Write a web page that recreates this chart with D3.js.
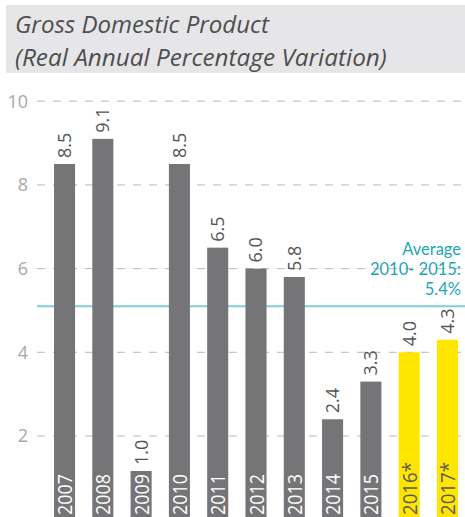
<!DOCTYPE html>
<html><head><meta charset="utf-8">
<script src="https://cdn.jsdelivr.net/npm/d3@7"></script>
<style>
html,body{margin:0;padding:0;background:#fff;}
svg{display:block;font-family:"Open Sans",sans-serif;}
</style></head>
<body><svg id="c" width="465" height="517"></svg>
<script>
const years = ["2007","2008","2009","2010","2011","2012","2013","2014","2015","2016*","2017*"];
const values = [8.5, 9.1, 1.0, 8.5, 6.5, 6.0, 5.8, 2.4, 3.3, 4.0, 4.3];
const forecast = [false,false,false,false,false,false,false,false,false,true,true];
const yTicks = [2, 4, 6, 8, 10];
const averageLevel = 5.1;
const averageLines = ["Average", "2010- 2015:", "5.4%"];
const titleLines = ["Gross Domestic Product", "(Real Annual Percentage Variation)"];

const svg = d3.select("#c");
const W = 465, H = 517;
const x = d3.scaleBand().domain(years).range([54, 458]).paddingInner(0.45).paddingOuter(0);
const y = d3.scaleLinear().domain([0, 10]).range([519.7, 101.2]);

// header
svg.append("rect").attr("x", 6).attr("y", 5).attr("width", W - 6).attr("height", 68).attr("fill", "#e6e6e8");
const titleW = [254, 372];
titleLines.forEach((t, i) => {
  const tx = svg.append("text").attr("x", 15).attr("y", 33 + i * 32.5)
    .attr("fill", "#4e4e4e").attr("font-style", "italic").attr("font-size", 22).text(t);
  const w = tx.node().getComputedTextLength();
  tx.attr("font-size", 22 * titleW[i] / w);
});

// grid
const grid = svg.append("g");
yTicks.forEach(v => {
  grid.append("line").attr("x1", 37).attr("x2", W).attr("y1", y(v)).attr("y2", y(v))
    .attr("stroke", "#b8b8b8").attr("stroke-width", 1).attr("stroke-dasharray", "8,8");
  grid.append("text").attr("x", 28).attr("y", y(v)).attr("dy", "0.36em").attr("text-anchor", "end")
    .attr("font-size", 18).attr("fill", "#a8a8a8").text(v);
});

// average line
svg.append("line").attr("x1", 37).attr("x2", W).attr("y1", y(averageLevel)).attr("y2", y(averageLevel))
  .attr("stroke", "#7fcfd7").attr("stroke-width", 2);
averageLines.forEach((t, i) => {
  svg.append("text").attr("x", 461).attr("y", 254.5 + i * 20).attr("text-anchor", "end")
    .attr("font-family", "Lato, sans-serif").attr("font-size", 16.5).attr("fill", "#1ca6b6").text(t);
});

// bars
const bottom = H;
const minBox = 46;
const bars = svg.append("g");
years.forEach((yr, i) => {
  const bx = x(yr), bw = x.bandwidth(), cx = bx + bw / 2;
  const top = Math.min(y(values[i]), bottom - minBox);
  bars.append("rect").attr("x", bx).attr("y", top).attr("width", bw).attr("height", bottom - top)
    .attr("fill", forecast[i] ? "#ffe600" : "#757578");
  bars.append("text").attr("transform", `translate(${cx},${top - 6}) rotate(-90)`)
    .attr("dy", "0.36em").attr("font-size", 18).attr("fill", "#555")
    .text(values[i].toFixed(1));
  bars.append("text").attr("transform", `translate(${cx},${bottom - 2}) rotate(-90)`)
    .attr("dy", "0.37em").attr("font-size", 20.5).attr("fill", forecast[i] ? "#5a5a5a" : "#fff")
    .attr("textLength", forecast[i] ? 53 : 41).attr("lengthAdjust", "spacingAndGlyphs")
    .text(yr);
});
</script></body></html>
